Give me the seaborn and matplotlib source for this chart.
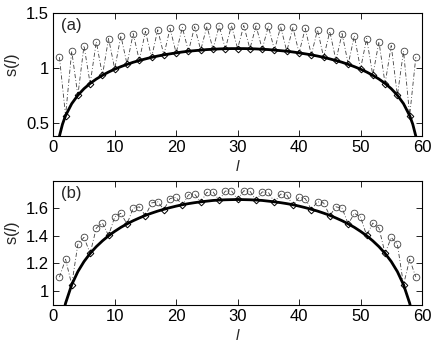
import matplotlib
matplotlib.use("Agg")
import matplotlib.pyplot as plt
import pandas as pd
import seaborn as sns

# ---- panel (a): period-2 oscillation ----
circ_a_l = list(range(1, 60, 2))
circ_a_s = [1.100, 1.155, 1.205, 1.240, 1.270, 1.295, 1.315, 1.335, 1.350, 1.362,
            1.371, 1.378, 1.383, 1.386, 1.388, 1.388, 1.386, 1.383, 1.378, 1.371,
            1.362, 1.350, 1.335, 1.315, 1.295, 1.270, 1.240, 1.205, 1.155, 1.100]
diam_a_l = list(range(2, 59, 2))
diam_a_s = [0.566, 0.750, 0.858, 0.935, 0.992, 1.036, 1.071, 1.098, 1.120, 1.138,
            1.153, 1.164, 1.172, 1.176, 1.178, 1.176, 1.172, 1.164, 1.153, 1.138,
            1.120, 1.098, 1.071, 1.036, 0.992, 0.935, 0.858, 0.750, 0.566]

# ---- panel (b): period-3 oscillation ----
circ_b_l = [1, 2, 4, 5, 7, 8, 10, 11, 13, 14, 16, 17, 19, 20, 22, 23, 25, 26, 28, 29,
            31, 32, 34, 35, 37, 38, 40, 41, 43, 44, 46, 47, 49, 50, 52, 53, 55, 56, 58, 59]
circ_b_s = [1.100, 1.230, 1.338, 1.388, 1.456, 1.492, 1.537, 1.563, 1.600, 1.610,
            1.638, 1.647, 1.670, 1.678, 1.697, 1.702, 1.715, 1.718, 1.724, 1.726,
            1.726, 1.724, 1.718, 1.715, 1.702, 1.697, 1.678, 1.670, 1.647, 1.638,
            1.610, 1.600, 1.563, 1.537, 1.492, 1.456, 1.388, 1.338, 1.230, 1.100]
diam_b_l = list(range(3, 58, 3))
diam_b_s = [1.045, 1.272, 1.402, 1.485, 1.545, 1.590, 1.620, 1.644, 1.658, 1.663,
            1.658, 1.644, 1.620, 1.590, 1.545, 1.485, 1.402, 1.272, 1.045]

# ---- solid (CFT) curves ----
curve_l = [1, 1.5] + list(range(2, 59)) + [58.5, 59]
curve_a_s = [0.379, 0.488, 0.566, 0.675, 0.752, 0.812, 0.860, 0.900, 0.934, 0.964,
             0.990, 1.013, 1.034, 1.053, 1.069, 1.084, 1.098, 1.110, 1.121, 1.130,
             1.139, 1.147, 1.154, 1.159, 1.164, 1.169, 1.172, 1.175, 1.177, 1.178,
             1.178, 1.178, 1.177, 1.175, 1.172, 1.169, 1.164, 1.159, 1.154, 1.147,
             1.139, 1.130, 1.121, 1.110, 1.098, 1.084, 1.069, 1.053, 1.034, 1.013,
             0.990, 0.964, 0.934, 0.900, 0.860, 0.812, 0.752, 0.675, 0.566, 0.488, 0.379]
curve_b_s = [0.680, 0.815, 0.911, 1.045, 1.140, 1.213, 1.272, 1.321, 1.363, 1.400,
             1.432, 1.461, 1.486, 1.509, 1.529, 1.548, 1.564, 1.579, 1.592, 1.604,
             1.615, 1.625, 1.633, 1.640, 1.646, 1.651, 1.656, 1.659, 1.661, 1.662,
             1.663, 1.662, 1.661, 1.659, 1.656, 1.651, 1.646, 1.640, 1.633, 1.625,
             1.615, 1.604, 1.592, 1.579, 1.564, 1.548, 1.529, 1.509, 1.486, 1.461,
             1.432, 1.400, 1.363, 1.321, 1.272, 1.213, 1.140, 1.045, 0.911, 0.815, 0.680]

x_ticks = [0, 10, 20, 30, 40, 50, 60]
y_ticks_a = [0.5, 1, 1.5]
y_ticks_b = [1, 1.2, 1.4, 1.6]

sns.set_style("ticks")
plt.rcParams["font.family"] = ["Liberation Sans", "DejaVu Sans"]
plt.rcParams["mathtext.fontset"] = "custom"
plt.rcParams["mathtext.rm"] = "Liberation Sans"
plt.rcParams["mathtext.it"] = "Liberation Sans:italic"


def draw_panel(ax, cl, cs, dl, ds, curve_s, ylim, yticks, tag):
    pts = pd.concat([pd.DataFrame({"l": cl, "s": cs}),
                     pd.DataFrame({"l": dl, "s": ds})]).sort_values("l")
    sns.lineplot(x=pts["l"].values, y=pts["s"].values, ax=ax, sort=False, estimator=None,
                 color="0.25", lw=0.6, linestyle=(0, (5, 2.5, 1, 2.5)))
    sns.lineplot(x=curve_l, y=curve_s, ax=ax, sort=False, estimator=None,
                 color="black", lw=2.0)
    sns.lineplot(x=cl, y=cs, ax=ax, sort=False, estimator=None, linestyle="",
                 marker="o", markersize=4.8, markerfacecolor="none",
                 markeredgecolor="0.25", markeredgewidth=0.6)
    sns.lineplot(x=dl, y=ds, ax=ax, sort=False, estimator=None, linestyle="",
                 marker="D", markersize=3.4, markerfacecolor="none",
                 markeredgecolor="black", markeredgewidth=0.7)
    ax.set_xlim(0, 60)
    ax.set_ylim(*ylim)
    ax.set_xticks(x_ticks)
    ax.set_xticklabels([str(t) for t in x_ticks])
    ax.set_yticks(yticks)
    ax.set_yticklabels([f"{t:g}" for t in yticks])
    ax.tick_params(direction="in", top=True, right=True, length=4, width=0.6,
                   labelsize=12, pad=3, colors="black")
    for sp in ax.spines.values():
        sp.set_color("black")
        sp.set_linewidth(0.8)
    ax.set_xlabel(r"$\mathit{l}$", fontsize=11)
    ax.xaxis.set_label_coords(0.5, -0.19)
    ax.set_ylabel(r"s($\mathit{l}$)", fontsize=12)
    ax.yaxis.set_label_coords(-0.086, 0.58)
    ax.text(0.022, 0.9, tag, transform=ax.transAxes, fontsize=12, va="center", ha="left")


fig = plt.figure(figsize=(4.36, 3.45), dpi=100)
ax_a = fig.add_axes([0.1222, 0.6058, 0.8456, 0.3556])
ax_b = fig.add_axes([0.1222, 0.1168, 0.8456, 0.3577])

draw_panel(ax_a, circ_a_l, circ_a_s, diam_a_l, diam_a_s, curve_a_s,
           (0.38, 1.5), y_ticks_a, "(a)")
draw_panel(ax_b, circ_b_l, circ_b_s, diam_b_l, diam_b_s, curve_b_s,
           (0.9, 1.795), y_ticks_b, "(b)")

fig.savefig("out.png", dpi=100)
